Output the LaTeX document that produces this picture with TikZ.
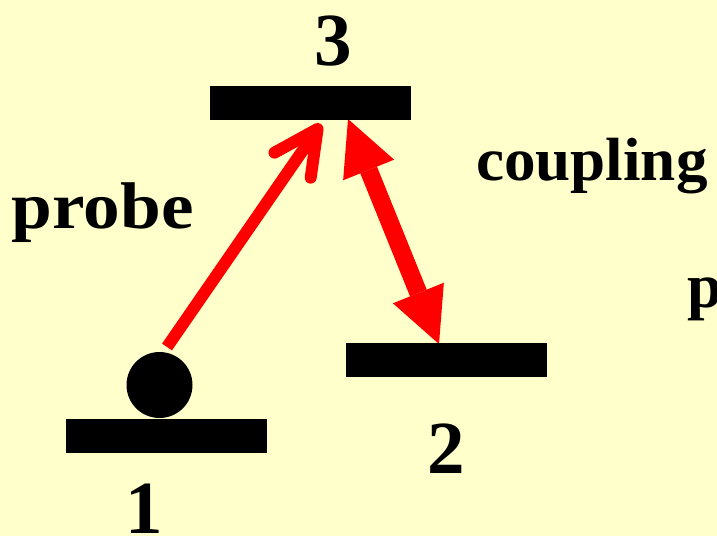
\documentclass[tikz,border=0pt]{standalone}
\usepackage{fontspec}
\setmainfont{Liberation Serif}
\usetikzlibrary{arrows.meta}
\definecolor{bgyellow}{HTML}{FFFFCC}
\definecolor{arrred}{HTML}{FF0000}
\begin{document}
\begin{tikzpicture}[x=1pt,y=-1pt,
  levelbar/.style={fill=black, draw=none, rectangle, minimum width=201pt, minimum height=34pt, inner sep=0pt, outer sep=0pt},
  numlbl/.style={inner sep=0pt, outer sep=0pt, anchor=base, font=\bfseries\fontsize{75}{80}\selectfont},
  wordlbl/.style={inner sep=0pt, outer sep=0pt, anchor=base west},
  probearrow/.style={draw=arrred, line width=12pt, -{Straight Barb[length=44pt, width=44pt, round]}},
  couplearrow/.style={draw=arrred, line width=18pt, {Triangle[length=55pt, width=55pt, line width=0pt]}-{Triangle[length=55pt, width=55pt, line width=0pt]}}
]
\fill[bgyellow] (0,0) rectangle (717,536);
\useasboundingbox (0,0) rectangle (717,536);

% arrows first (under bars)
\coordinate (pS) at (167,347);
\coordinate (pT) at (321,124);
\coordinate (cT) at (348,119);
\coordinate (cB) at (439,344);
\draw[probearrow] (pS) -- (pT);
\draw[couplearrow] (cT) -- (cB);

% levels
\node[levelbar] (L3) at (310,103) {};
\node[levelbar] (L2) at (446.5,360) {};
\node[levelbar] (L1) at (166.5,436) {};

% atom
\fill[black] (159.5,385) circle (33pt);
\node[inner sep=0pt, minimum size=66pt, circle] (atom) at (159.5,385) {};

% labels
\node[numlbl] (n3) at (333,65) {3};
\node[numlbl] (n2) at (446,473) {2};
\node[numlbl] (n1) at (144,533) {1};
\node[wordlbl, font=\bfseries\fontsize{66}{70}\selectfont] (probe) at (12,228) {\scalebox{1.11}[1]{probe}};
\node[wordlbl, font=\bfseries\fontsize{61}{66}\selectfont] (coupling) at (476,180) {\scalebox{1.035}[1]{coupling}};
\node[wordlbl, font=\bfseries\fontsize{63}{68}\selectfont] (pp) at (687,307) {p};
\end{tikzpicture}
\end{document}
